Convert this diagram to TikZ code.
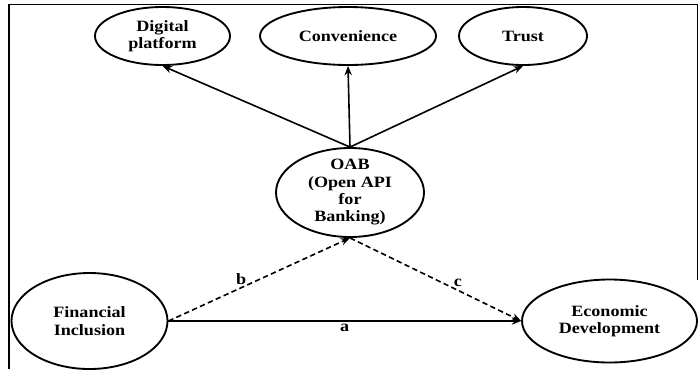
\documentclass[tikz,border=0pt]{standalone}
\usepackage{fontspec}
\setmainfont{Liberation Serif}[FakeStretch=1.15]
\usetikzlibrary{shapes.geometric,arrows.meta}

\begin{document}
\begin{tikzpicture}[x=0.75pt,y=-0.75pt,
        construct/.style={ellipse,draw,line width=1.4pt,inner sep=-2pt,align=center,
            font=\fontsize{11.8}{13}\selectfont\bfseries},
        link/.style={line width=1.2pt,-{Stealth[length=7pt,width=5.5pt]}},
        mediated/.style={link,dash pattern=on 4pt off 2.5pt},
        coef/.style={font=\fontsize{11.8}{13}\selectfont\bfseries,inner sep=2pt}]
        \useasboundingbox (0,0) rectangle (698,369);
        %% frame
        \draw[line width=1pt] (9,369) -- (9,4.5) -- (698,4.5);
        \draw[line width=1pt] (697.5,4.5) -- (697.5,280);
        %% indicators
        \node[construct,minimum width=101.25pt,minimum height=43.5pt] (digital) at (162.5,36) {Digital\\platform};
        \node[construct,minimum width=132pt,minimum height=43.5pt] (conv) at (348,36) {Convenience};
        \node[construct,minimum width=96pt,minimum height=43.5pt] (trust) at (523,36) {Trust};
        %% mediator
        \node[construct,minimum width=111pt,minimum height=66.75pt] (oab) at (350,192.5) {OAB\\(Open API\\for\\Banking)};
        %% independent and dependent
        \node[construct,minimum width=117pt,minimum height=72pt] (fin) at (89.5,321) {Financial\\Inclusion};
        \node[construct,minimum width=131.25pt,minimum height=62.25pt] (econ) at (609.5,321) {Economic\\Development};
        %% loadings
        \draw[link] (oab.north) -- (digital.south);
        \draw[link] (oab.north) -- (conv.south);
        \draw[link] (oab.north) -- (trust.south);
        %% paths
        \draw[link] (fin.east) -- (econ.west) node[coef,pos=0.5,below] {a};
        \draw[mediated] (fin.east) -- (oab.south) node[coef,pos=0.4,above] {b};
        \draw[mediated] (oab.south) -- (econ.west) node[coef,pos=0.63,above] {c};
    \end{tikzpicture}
\end{document}
